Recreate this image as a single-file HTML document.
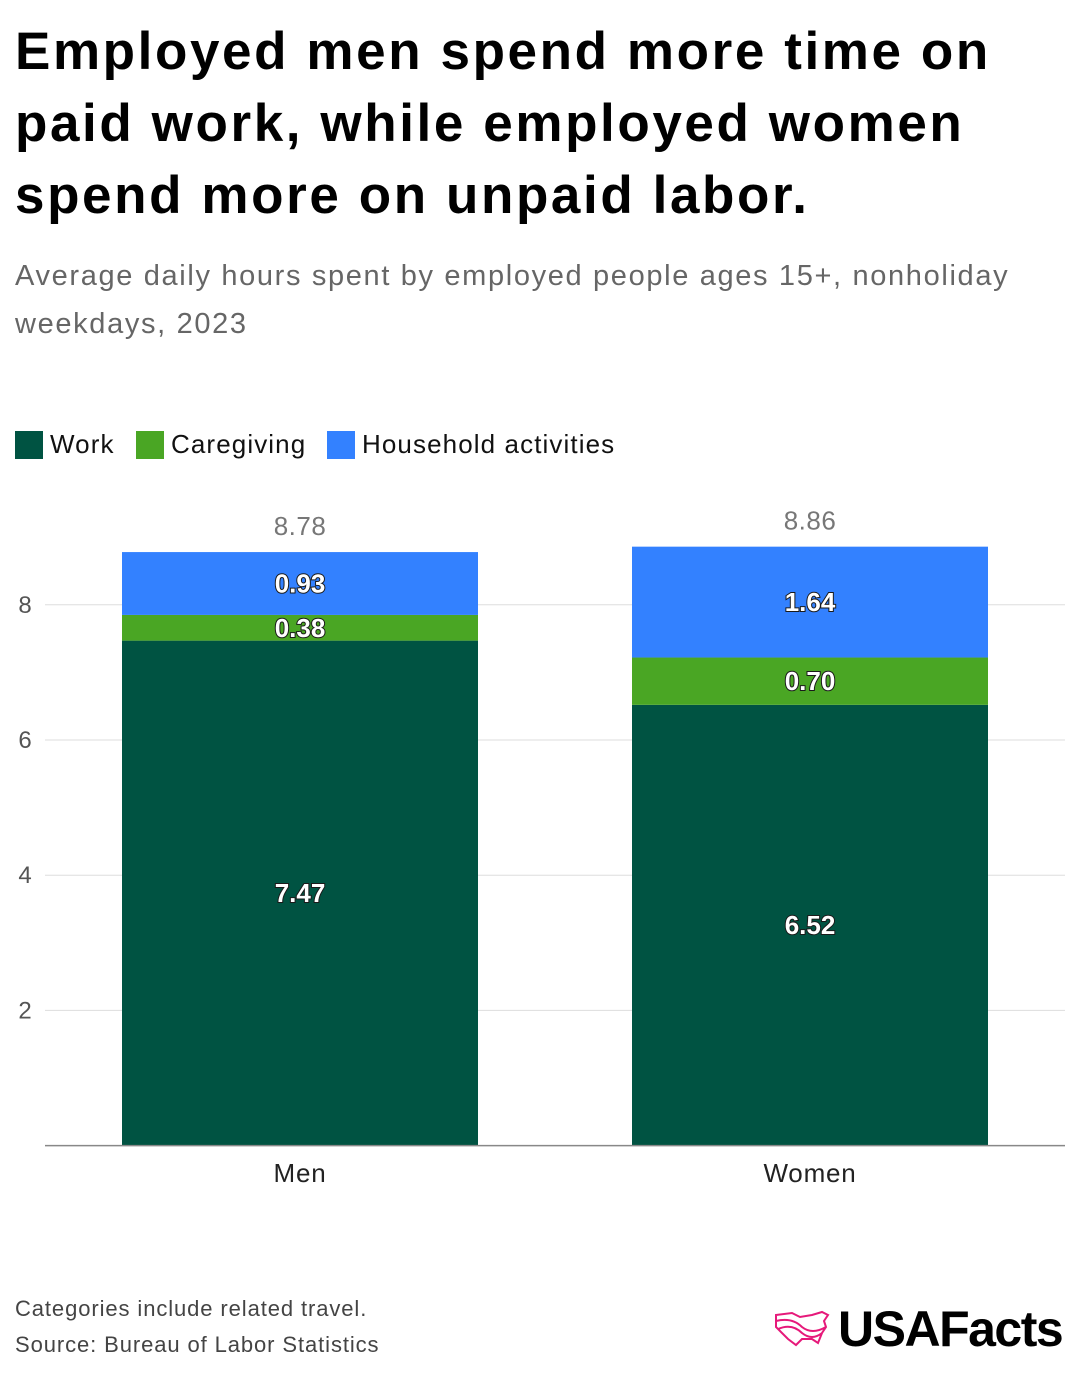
<!DOCTYPE html>
<html><head><meta charset="utf-8"><style>
body{margin:0;width:1080px;height:1378px;background:#fff;font-family:"Liberation Sans",sans-serif;position:relative;overflow:hidden}
.t{position:absolute;left:15px;top:16px;font-size:53px;font-weight:bold;line-height:72px;color:#000;letter-spacing:2.6px;white-space:nowrap}
.s{position:absolute;left:15px;top:252px;font-size:29px;line-height:48px;color:#666;letter-spacing:1.65px;white-space:nowrap}
.lg{position:absolute;top:429px;font-size:26px;color:#111;letter-spacing:1.1px;line-height:30px}
.sw{position:absolute;top:431px;width:28px;height:28px}
.fn{position:absolute;left:15px;font-size:22px;color:#444;letter-spacing:0.9px}
</style></head><body>
<div class="t">Employed men spend more time on<br>paid work, while employed women<br>spend more on unpaid labor.</div>
<div class="s">Average daily hours spent by employed people ages 15+, nonholiday<br>weekdays, 2023</div>
<div>
<span class="sw" style="left:15px;background:#005342"></span><span class="lg" style="left:50px">Work</span>
<span class="sw" style="left:136px;background:#4aa624"></span><span class="lg" style="left:171px">Caregiving</span>
<span class="sw" style="left:327px;background:#3381ff"></span><span class="lg" style="left:362px">Household activities</span>
</div>
<svg id="c" width="1080" height="1378" style="position:absolute;left:0;top:0"></svg>
<div class="fn" style="top:1296px">Categories include related travel.</div>
<div class="fn" style="top:1332px">Source: Bureau of Labor Statistics</div>
<div style="position:absolute;left:772px;top:1300px;display:flex;align-items:center">
<svg width="58" height="40" viewBox="0 0 58 40"><path d="M4 6 L20 4 L28 8 L40 6 L50 3 L56 6 L52 12 L54 18 L50 24 L46 34 L40 30 L30 30 L24 36 L16 30 L10 24 L4 18 Z M4 12 Q20 8 30 18 Q40 26 54 18 M6 20 Q20 14 30 24 Q40 32 50 24" fill="none" stroke="#e6197a" stroke-width="2"/></svg>
<span style="font-size:50px;font-weight:bold;color:#000;letter-spacing:-1.5px;margin-left:8px">USAFacts</span>
</div>
<script>
const categories=["Men","Women"];
const work=[7.47,6.52];
const caregiving=[0.38,0.70];
const household=[0.93,1.64];
const totals=["8.78","8.86"];
const yTicks=[2,4,6,8];
const svg=document.getElementById('c');
const NS="http://www.w3.org/2000/svg";
const y0=1145.6,k=67.6;
const y=v=>y0-v*k;
const barX=i=>122+i*510, bw=356;
function el(t,a){const e=document.createElementNS(NS,t);for(const n in a)e.setAttribute(n,a[n]);svg.appendChild(e);return e;}
yTicks.forEach(t=>{
 const l=el('line',{x1:45,x2:1065,y1:y(t),y2:y(t),stroke:'#ddd','stroke-width':1});
 
 
 const tx=el('text',{x:25,y:y(t)+8,'text-anchor':'middle','font-size':24,fill:'#555','font-family':'Liberation Sans'});
 tx.textContent=t;
 
 
});
const series=[[work,'#005342','work'],[caregiving,'#4aa624','caregiving'],[household,'#3381ff','household']];
categories.forEach((c,i)=>{
 let base=0;
 series.forEach(([arr,col,nm])=>{
  const v=arr[i];
  const r=el('rect',{x:barX(i),y:y(base+v),width:bw,height:v*k,fill:col});
  
  
  const tx=el('text',{x:barX(i)+bw/2,y:y(base+v/2)+9,'text-anchor':'middle','font-size':26,'font-weight':'bold',fill:'#fff',stroke:'#1a1a1a','stroke-width':2,'paint-order':'stroke','font-family':'Liberation Sans'});
  tx.textContent=v.toFixed(2);
  
  
  base+=v;
 });
 const tt=el('text',{x:barX(i)+bw/2,y:y(base)-17,'text-anchor':'middle','font-size':26,fill:'#777','letter-spacing':0.5,'font-family':'Liberation Sans'});
 tt.textContent=totals[i];
 
 
 const cl=el('text',{x:barX(i)+bw/2,y:1182,'text-anchor':'middle','font-size':26,fill:'#222','letter-spacing':0.8,'font-family':'Liberation Sans'});
 cl.textContent=c;
 
 
});
const ax=el('line',{x1:45,x2:1065,y1:y0,y2:y0,stroke:'#888','stroke-width':1.5});


</script>
</body></html>
